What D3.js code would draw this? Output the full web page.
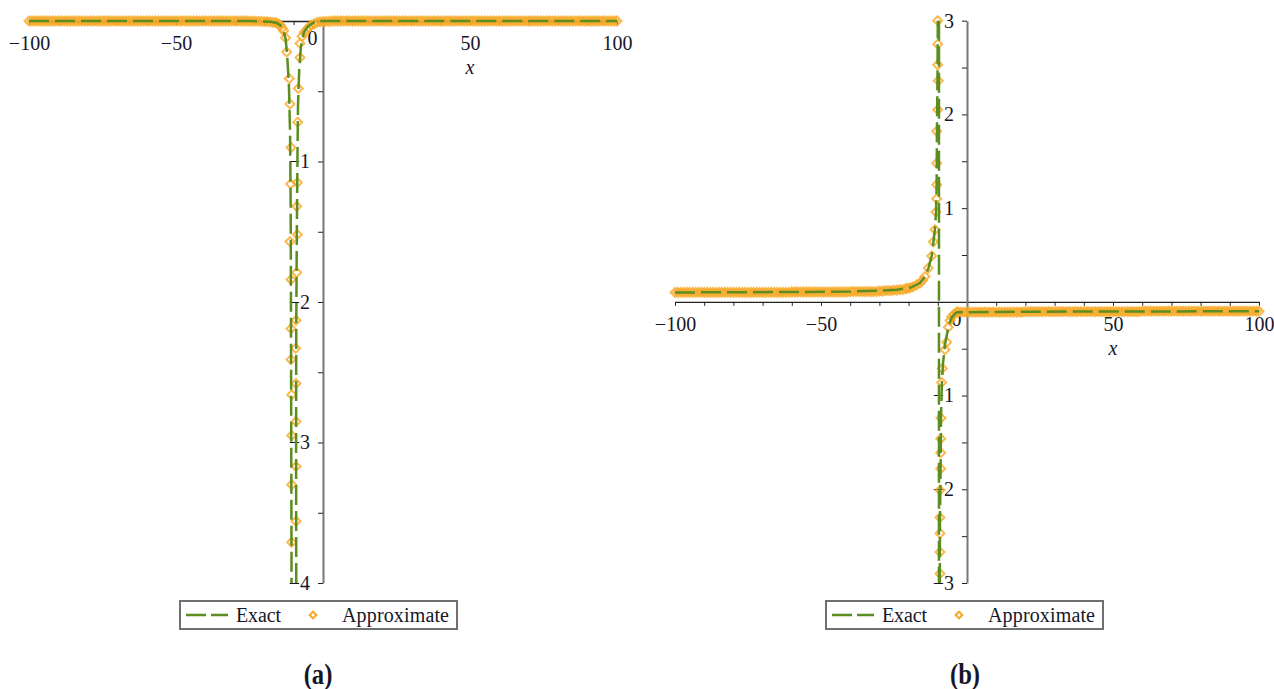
<!DOCTYPE html>
<html>
<head>
<meta charset="utf-8">
<script src="https://cdn.jsdelivr.net/npm/d3@7"></script>
<style>
  body { margin: 0; background: #fff; }
  svg text { font-family: "Liberation Serif", "Times New Roman", serif; fill: #161628; }
</style>
</head>
<body>
<svg id="chart" width="1274" height="689"></svg>
<script>
// ---- shared ticks / labels ----
const xTicks = [-100,-90,-80,-70,-60,-50,-40,-30,-20,-10,0,10,20,30,40,50,60,70,80,90,100];
const xLabelled = [-100,-50,0,50,100];
const seriesNames = ["Exact", "Approximate"];
const captions = ["(a)", "(b)"];

// x positions of the dense approximate samples on the flat parts
const flatLeftX = [-100,-99,-98,-97,-96,-95,-94,-93,-92,-91,-90,-89,-88,-87,-86,-85,-84,-83,-82,-81,
  -80,-79,-78,-77,-76,-75,-74,-73,-72,-71,-70,-69,-68,-67,-66,-65,-64,-63,-62,-61,
  -60,-59,-58,-57,-56,-55,-54,-53,-52,-51,-50,-49,-48,-47,-46,-45,-44,-43,-42,-41,
  -40,-39,-38,-37,-36,-35,-34,-33,-32,-31,-30,-29,-28,-27,-26,-25,-24,-23,-22,-21];
const flatRightX = [-3,-2,-1,0,1,2,3,4,5,6,7,8,9,10,11,12,13,14,15,16,17,18,19,20,21,22,23,24,25,26,
  27,28,29,30,31,32,33,34,35,36,37,38,39,40,41,42,43,44,45,46,47,48,49,50,51,52,53,54,55,56,
  57,58,59,60,61,62,63,64,65,66,67,68,69,70,71,72,73,74,75,76,77,78,79,80,81,82,83,84,85,86,
  87,88,89,90,91,92,93,94,95,96,97,98,99,100];

// ---- panel (a) ----
const aYTicks = [-0.5,-1,-1.5,-2,-2.5,-3,-3.5,-4];
const aExactLeft = [[-100,0],[-24,0],[-18,-0.005],[-16,-0.012],[-14.5,-0.03],[-13.4,-0.07],[-12.7,-0.13],
  [-12.2,-0.24],[-11.6,-0.45],[-11.2,-0.8],[-11.0,-1.3],[-10.9,-2.0],[-10.8,-3.0],[-10.7,-4.0]];
const aExactRight = [[-9.1,-4.0],[-9.15,-3.0],[-9.1,-2.2],[-8.9,-1.5],[-8.7,-1.0],[-8.5,-0.6],[-8.1,-0.35],
  [-7.5,-0.18],[-6.5,-0.08],[-5.2,-0.04],[-3.5,-0.015],[-1.5,0],[100,0]];
const aApproxPole = [[-20,-0.004],[-19,-0.005],[-18,-0.007],[-17,-0.009],[-16,-0.012],[-15.2,-0.02],
  [-14.5,-0.03],[-13.9,-0.05],[-13.4,-0.07],[-12.7,-0.12],[-12.35,-0.22],[-11.46,-0.41],
  [-11.22,-0.59],[-10.88,-0.90],[-10.99,-1.16],[-11.22,-1.57],[-10.88,-1.84],[-10.88,-2.19],[-10.88,-2.41],
  [-10.65,-2.66],[-10.65,-2.95],[-10.65,-3.30],[-10.65,-3.71],
  [-4.1,-0.03],[-4.8,-0.045],[-5.44,-0.06],[-6.3,-0.08],[-7.14,-0.11],[-7.82,-0.16],[-7.82,-0.26],[-8.40,-0.48],
  [-8.61,-0.72],[-8.74,-1.15],[-8.95,-1.32],[-8.74,-1.52],[-8.95,-1.79],[-9.18,-2.13],[-9.29,-2.33],
  [-9.18,-2.58],[-9.18,-2.85],[-9.18,-3.17],[-9.18,-3.56]];
const aFlatLeftY = [0,0,0,0,0,0,0,0,0,0, 0,0,0,0,0,0,0,0,0,0, 0,0,0,0,0,0,0,0,0,0,
  0,0,0,0,0,0,0,0,0,0, 0,0,0,0,0,0,0,0,0,0, 0,0,0,0,0,0,0,0,0,0,
  0,0,0,0,0,0,0,0,0,0, 0,0,0,0,0,-0.001,-0.001,-0.001,-0.002,-0.003];
const aFlatRightY = [-0.02,-0.01,-0.006,-0.004,-0.003,-0.002,-0.001,0,0,0,
  0,0,0,0,0,0,0,0,0,0, 0,0,0,0,0,0,0,0,0,0, 0,0,0,0,0,0,0,0,0,0,
  0,0,0,0,0,0,0,0,0,0, 0,0,0,0,0,0,0,0,0,0, 0,0,0,0,0,0,0,0,0,0,
  0,0,0,0,0,0,0,0,0,0, 0,0,0,0,0,0,0,0,0,0, 0,0,0,0,0,0,0,0,0,0, 0,0,0,0];

// ---- panel (b) ----
const bYTicks = [3,2.5,2,1.5,1,0.5,-0.5,-1,-1.5,-2,-2.5,-3];
const bExactUpper = [[-100,0.10],[-60,0.105],[-40,0.11],[-30,0.12],[-24,0.13],[-19.5,0.15],[-16.1,0.2],
  [-14.4,0.27],[-13.2,0.36],[-12.1,0.49],[-11.5,0.64],[-11.0,0.77],[-10.6,0.96],[-10.4,1.25],[-10.3,1.8],
  [-10.1,2.4],[-10.0,3.0]];
const bExactJump = [[-9.6,3],[-9.6,-3]];
const bExactLower = [[-9.3,-3.0],[-9.25,-2.3],[-9.05,-1.8],[-8.9,-1.24],[-8.6,-0.86],[-8.2,-0.65],
  [-7.5,-0.45],[-6.4,-0.27],[-5.2,-0.16],[-3.5,-0.11],[0,-0.11],[20,-0.105],[100,-0.10]];
const bApproxPole = [[-10.03,3.0],[-10.03,2.75],[-10.03,2.53],[-9.83,2.36],[-10.03,2.05],[-10.38,1.82],
  [-10.38,1.48],[-10.38,1.25],[-10.38,1.10],[-10.62,0.96],[-10.96,0.77],[-11.54,0.64],[-12.09,0.49],
  [-13.25,0.36],[-14.38,0.27],[-15.2,0.23],[-16.1,0.20],[-17.3,0.18],[-18.5,0.16],[-19.5,0.15],[-20.3,0.145],
  [-9.25,-2.90],[-9.25,-2.67],[-9.25,-2.47],[-9.25,-2.30],[-9.25,-2.01],[-9.01,-1.78],[-9.01,-1.61],
  [-9.01,-1.46],[-8.9,-1.24],[-8.66,-0.86],[-8.46,-0.71],[-7.53,-0.51],[-6.95,-0.43],[-6.4,-0.27],
  [-5.8,-0.2],[-5.24,-0.16],[-4.4,-0.13],[-3.53,-0.11]];
const bFlatLeftY = [0.10,0.10,0.10,0.10,0.10,0.10,0.10,0.10,0.10,0.10, 0.10,0.10,0.10,0.10,0.10,0.10,0.10,0.10,0.10,0.10,
  0.10,0.10,0.10,0.10,0.10,0.10,0.10,0.10,0.10,0.10, 0.10,0.10,0.10,0.10,0.10,0.10,0.10,0.10,0.10,0.10,
  0.105,0.105,0.105,0.105,0.105,0.105,0.105,0.105,0.105,0.105, 0.105,0.105,0.105,0.105,0.105,0.105,0.105,0.105,0.105,0.105,
  0.11,0.11,0.11,0.11,0.11,0.11,0.11,0.11,0.11,0.11, 0.115,0.115,0.12,0.12,0.12,0.125,0.125,0.13,0.13,0.14];
const bFlatRightY = [-0.11,-0.11,-0.11,-0.11,-0.11,-0.11,-0.11,-0.11,-0.11,-0.11,
  -0.11,-0.11,-0.11,-0.11,-0.11,-0.11,-0.11,-0.11,-0.11,-0.11, -0.11,-0.11,-0.11,
  -0.105,-0.105,-0.105,-0.105,-0.105,-0.105,-0.105,-0.105,-0.105,-0.105, -0.105,-0.105,-0.105,-0.105,-0.105,-0.105,-0.105,-0.105,-0.105,-0.105,
  -0.105,-0.105,-0.105,-0.105,-0.105,-0.105,-0.105,-0.105,-0.105,-0.105, -0.105,-0.105,-0.105,-0.105,-0.105,-0.105,-0.105,-0.105,-0.105,-0.105,
  -0.10,-0.10,-0.10,-0.10,-0.10,-0.10,-0.10,-0.10,-0.10,-0.10, -0.10,-0.10,-0.10,-0.10,-0.10,-0.10,-0.10,-0.10,-0.10,-0.10,
  -0.10,-0.10,-0.10,-0.10,-0.10,-0.10,-0.10,-0.10,-0.10,-0.10, -0.10,-0.10,-0.10,-0.10,-0.10,-0.10,-0.10,-0.10,-0.10,-0.10, -0.10];

const green = "#5b8d1f";
const orange = "#f7a823";
const font = "Liberation Serif";
const svg = d3.select("#chart");
const diamond = d3.symbol(d3.symbolSquare, 40);

function zip(xs, ys) { return xs.map((v, i) => [v, ys[i]]); }

const panels = [
  {
    xRange: [29, 617], yDomain: [-4, 0], yRange: [583, 21], yTicks: aYTicks, legendX: 180, captionX: 318,
    exact: [aExactLeft, aExactRight],
    approx: zip(flatLeftX, aFlatLeftY).concat(zip(flatRightX, aFlatRightY), aApproxPole)
  },
  {
    xRange: [675, 1259], yDomain: [-3, 3], yRange: [583, 20.7], yTicks: bYTicks, legendX: 826, captionX: 965,
    exact: [bExactUpper, bExactJump, bExactLower],
    approx: zip(flatLeftX, bFlatLeftY).concat(zip(flatRightX, bFlatRightY), bApproxPole)
  }
];

panels.forEach(function (p, pi) {
  let x = d3.scaleLinear().domain([-100, 100]).range(p.xRange);
  let y = d3.scaleLinear().domain(p.yDomain).range(p.yRange);
  let g = svg.append("g");
  let y0 = y(0), x0 = x(0);

  // x axis
  let gx = g.append("g")
    .attr("transform", "translate(0," + y0 + ")")
    .call(d3.axisBottom(x).tickValues(xTicks).tickSize(4).tickSizeOuter(0).tickPadding(11)
      .tickFormat(d => xLabelled.includes(d) ? d3.format("d")(d) : ""));
  gx.attr("font-size", 20).attr("font-family", font);
  gx.select(".domain").attr("stroke", "#222").attr("stroke-width", 1.4);
  gx.selectAll(".tick line").attr("stroke", "#222");
  gx.selectAll(".tick").filter(d => d === 0).select("line").remove();
  gx.selectAll(".tick").filter(d => d === 0).select("text").attr("x", -11).attr("y", 10);

  // y axis
  let gy = g.append("g")
    .attr("transform", "translate(" + x0 + ",0)")
    .call(d3.axisLeft(y).tickValues(p.yTicks).tickSize(5).tickSizeOuter(0).tickPadding(8)
      .tickFormat(d => Number.isInteger(d) ? d3.format("d")(d) : ""));
  gy.attr("font-size", 20).attr("font-family", font);
  gy.select(".domain").attr("stroke", "#777").attr("stroke-width", 2);
  gy.selectAll(".tick line").attr("stroke", "#222");

  // axis title
  g.append("text")
    .attr("x", x(50)).attr("y", y0 + 53)
    .attr("text-anchor", "middle")
    .attr("font-family", font)
    .attr("font-size", 20).attr("font-style", "italic")
    .text("x");

  // approximate markers
  g.append("g").selectAll("path")
    .data(p.approx)
    .enter()
    .append("path")
    .attr("d", diamond)
    .attr("transform", d => "translate(" + x(d[0]) + "," + y(d[1]) + ") rotate(45)")
    .attr("fill", "none")
    .attr("stroke", orange)
    .attr("stroke-opacity", 0.8)
    .attr("stroke-width", 2);

  // exact lines
  let line = d3.line().x(d => x(d[0])).y(d => y(d[1]));
  g.append("g").selectAll("path")
    .data(p.exact)
    .enter()
    .append("path")
    .attr("d", line)
    .attr("fill", "none")
    .attr("stroke", green)
    .attr("stroke-width", 2.5)
    .attr("stroke-dasharray", "20,6");

  // legend
  let lg = g.append("g").attr("transform", "translate(" + p.legendX + ",601)");
  lg.append("rect").attr("width", 277).attr("height", 28)
    .attr("fill", "#fff").attr("stroke", "#707070").attr("stroke-width", 2);
  lg.append("line").attr("x1", 6).attr("x2", 48).attr("y1", 14).attr("y2", 14)
    .attr("stroke", green).attr("stroke-width", 2.5).attr("stroke-dasharray", "20,5");
  lg.append("text").attr("x", 56).attr("y", 21).attr("font-size", 20).attr("font-family", font)
    .attr("textLength", 45).text(seriesNames[0]);
  lg.append("path").attr("d", d3.symbol(d3.symbolSquare, 22))
    .attr("transform", "translate(133,14) rotate(45)")
    .attr("fill", "#fff").attr("stroke", orange).attr("stroke-width", 2);
  lg.append("text").attr("x", 162).attr("y", 21).attr("font-size", 20).attr("font-family", font)
    .attr("textLength", 107).text(seriesNames[1]);

  // caption
  svg.append("text")
    .attr("transform", "translate(" + p.captionX + ",684) scale(0.85,1)")
    .attr("text-anchor", "middle")
    .attr("font-family", font)
    .attr("font-size", 29).attr("font-weight", "bold")
    .text(captions[pi]);
});
</script>
</body>
</html>
